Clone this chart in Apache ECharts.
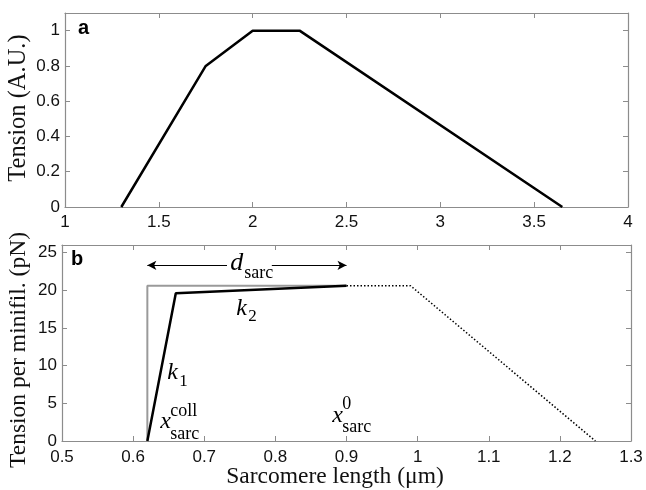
<!DOCTYPE html>
<html>
<head>
<meta charset="utf-8">
<script src="https://cdn.jsdelivr.net/npm/echarts@6/dist/echarts.min.js"></script>
<style>
  html, body { margin: 0; padding: 0; background: #fff; }
  #chart { width: 646px; height: 490px; }
</style>
</head>
<body>
<div id="chart"></div>
<script>
// panel a: tension-length curve
const tensionX = [1.3, 1.75, 2.0, 2.25, 3.65]
const tensionY = [0, 0.8, 1, 1, 0]
const aXTicks = [1, 1.5, 2, 2.5, 3, 3.5, 4]
const aYTicks = [0, 0.2, 0.4, 0.6, 0.8, 1]

// panel b: tension per minifilament
const rigidX = [0.62, 0.62, 0.9]
const rigidY = [0, 20.6, 20.6]
const springX = [0.62, 0.66, 0.9]
const springY = [0, 19.6, 20.6]
const dottedX = [0.9, 0.99, 1.25]
const dottedY = [20.6, 20.6, 0]
const bXTicks = [0.5, 0.6, 0.7, 0.8, 0.9, 1, 1.1, 1.2, 1.3]
const bYTicks = [0, 5, 10, 15, 20, 25]

const sans = 'Liberation Sans'
const serif = 'Liberation Serif'
const frame = '#8c8c8c'

const zip = (xs, ys) => xs.map((x, i) => [x, ys[i]])

function axis(ticks, max, pos, grid, showLabel, margin) {
  return {
    type: 'value',
    gridIndex: grid,
    position: pos,
    min: ticks[0],
    max: max,
    interval: +(ticks[1] - ticks[0]).toFixed(4),
    axisLine: { show: true, onZero: false, lineStyle: { color: frame, width: 1.2 } },
    axisTick: { show: true, inside: true, length: 5, lineStyle: { color: frame } },
    splitLine: { show: false },
    axisLabel: {
      show: showLabel,
      showMaxLabel: max === ticks[ticks.length - 1],
      margin: margin,
      color: '#111',
      fontFamily: sans,
      fontSize: 17,
      formatter: v => String(+v.toFixed(2))
    }
  }
}

const chart = echarts.init(document.getElementById('chart'))

chart.setOption({
  animation: false,
  grid: [
    { left: 65, right: 18, top: 13, bottom: 283, outerBoundsMode: 'none' },
    { left: 62, right: 15, top: 245, bottom: 49, outerBoundsMode: 'none' }
  ],
  xAxis: [
    axis(aXTicks, 4, 'bottom', 0, true, 7),
    axis(aXTicks, 4, 'top', 0, false, 8),
    axis(bXTicks, 1.3, 'bottom', 1, true, 8),
    axis(bXTicks, 1.3, 'top', 1, false, 8)
  ],
  yAxis: [
    axis(aYTicks, 1.1, 'left', 0, true, 5),
    axis(aYTicks, 1.1, 'right', 0, false, 5),
    axis(bYTicks, 26, 'left', 1, true, 5),
    axis(bYTicks, 26, 'right', 1, false, 5)
  ],
  series: [
    {
      type: 'line', xAxisIndex: 0, yAxisIndex: 0, symbol: 'none',
      data: zip(tensionX, tensionY),
      lineStyle: { color: '#000', width: 2.5 }
    },
    {
      type: 'line', xAxisIndex: 2, yAxisIndex: 2, symbol: 'none',
      data: zip(rigidX, rigidY),
      lineStyle: { color: '#9a9a9a', width: 2 }
    },
    {
      type: 'line', xAxisIndex: 2, yAxisIndex: 2, symbol: 'none',
      data: zip(springX, springY),
      lineStyle: { color: '#000', width: 2.5 }
    },
    {
      type: 'line', xAxisIndex: 2, yAxisIndex: 2, symbol: 'none',
      data: zip(dottedX, dottedY),
      lineStyle: { color: '#000', width: 1.5, type: [1.5, 2] },
      markLine: {
        silent: true,
        symbol: ['none', 'arrow'],
        symbolSize: [7, 9],
        label: { show: false },
        lineStyle: { color: '#000', width: 1, type: 'solid' },
        data: [
          [{ coord: [0.732, 23.3] }, { coord: [0.62, 23.3] }],
          [{ coord: [0.795, 23.3] }, { coord: [0.9, 23.3] }]
        ]
      }
    }
  ]
})

// annotations placed in data space of panel b
function at(x, y) {
  return chart.convertToPixel({ gridIndex: 1 }, [x, y])
}
function txt(p, dx, dy, text, size, style) {
  return {
    type: 'text', x: p[0] + dx, y: p[1] + dy,
    style: Object.assign({ text: text, fontFamily: serif, fontSize: size, fill: '#000',
      align: 'left', verticalAlign: 'middle' }, style || {})
  }
}
function title(x, y, text, size, rot) {
  return {
    type: 'text', x: x, y: y, rotation: rot || 0,
    style: { text: text, fontFamily: serif, fontSize: size, fill: '#111',
      align: 'center', verticalAlign: 'middle' }
  }
}
const it = { fontStyle: 'italic' }
const pD = at(0.735, 23.6)
const pK2 = at(0.745, 17.6)
const pK1 = at(0.648, 9.0)
const pXc = at(0.638, 2.5)
const pX0 = at(0.88, 3.3)

chart.setOption({
  graphic: [
    title(19, 108, 'Tension (A.U.)', 24.5, Math.PI / 2),
    title(19, 350, 'Tension per minifil. (pN)', 23.5, Math.PI / 2),
    title(335, 477, 'Sarcomere length (\u03bcm)', 23.5),
    { type: 'text', left: 78, top: 18, style: { text: 'a', fontFamily: sans, fontWeight: 'bold', fontSize: 20, fill: '#000' } },
    { type: 'text', left: 71, top: 249, style: { text: 'b', fontFamily: sans, fontWeight: 'bold', fontSize: 20, fill: '#000' } },
    txt(pD, 1, 0, 'd', 26, it),
    txt(pD, 15, 10, 'sarc', 18),
    txt(pK2, 0, 0, 'k', 24, it),
    txt(pK2, 12, 8, '2', 17),
    txt(pK1, 0, 0, 'k', 24, it),
    txt(pK1, 12, 8, '1', 17),
    txt(pXc, 0, 0, 'x', 24, it),
    txt(pXc, 10, -11, 'coll', 18),
    txt(pXc, 10, 12, 'sarc', 18),
    txt(pX0, 0, 0, 'x', 24, it),
    txt(pX0, 10, -12, '0', 18),
    txt(pX0, 10, 11, 'sarc', 18)
  ]
})
</script>
</body>
</html>
